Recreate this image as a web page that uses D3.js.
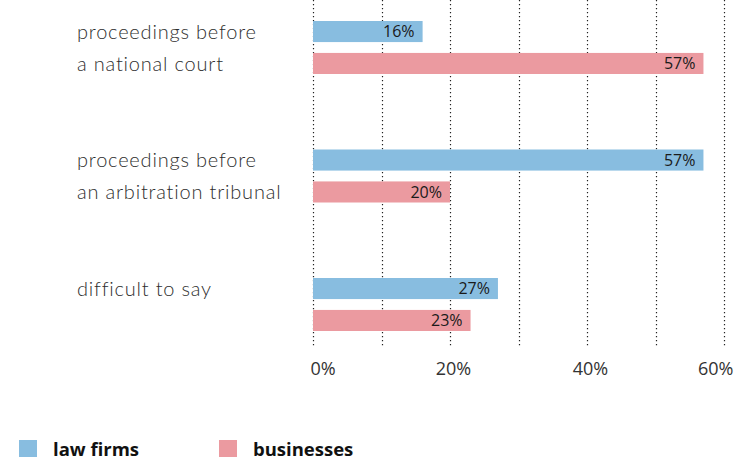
<!DOCTYPE html>
<html>
<head>
<meta charset="utf-8">
<script src="https://cdn.jsdelivr.net/npm/d3@7"></script>
<style>
  html, body { margin: 0; padding: 0; background: #fff; }
  svg { display: block; }
</style>
</head>
<body>
<svg id="chart" width="752" height="460"></svg>
<script>
// Chart data
const categories = [
  ["proceedings before", "a national court"],
  ["proceedings before", "an arbitration tribunal"],
  ["difficult to say"]
];
const seriesNames = ["law firms", "businesses"];
const lawFirms = [16, 57, 27];
const businesses = [57, 20, 23];
const tickValues = [0, 20, 40, 60];
const gridValues = [0, 10, 20, 30, 40, 50, 60];
const colors = ["#88bde0", "#eb9aa0"];

const svg = d3.select("#chart");
const series = [lawFirms, businesses];

const x = d3.scaleLinear().domain([0, 60]).range([313, 724]);
const groupStep = 128.5;
const groupTop = i => 21 + i * groupStep;
const ySeries = d3.scaleBand().domain(d3.range(seriesNames.length)).range([0, 53]).paddingInner(0.34);

// dotted vertical grid
svg.append("g").selectAll("line").data(gridValues).join("line")
  .attr("x1", d => Math.round(x(d)) + 0.5)
  .attr("x2", d => Math.round(x(d)) + 0.5)
  .attr("y1", 0).attr("y2", 346)
  .attr("stroke", "#222").attr("stroke-width", 1.2)
  .attr("stroke-dasharray", "1.2,2.8");

// bars
const groups = svg.append("g").selectAll("g").data(categories).join("g")
  .attr("transform", (d, i) => `translate(0,${groupTop(i)})`);

groups.each(function(cat, i) {
  const g = d3.select(this);
  series.forEach((vals, s) => {
    const v = vals[i];
    g.append("rect")
      .attr("x", x(0))
      .attr("y", ySeries(s))
      .attr("width", x(v) - x(0))
      .attr("height", ySeries.bandwidth())
      .attr("fill", colors[s]);
    g.append("text")
      .attr("x", x(v) - 8)
      .attr("y", ySeries(s) + ySeries.bandwidth() / 2)
      .attr("dy", "0.36em")
      .attr("text-anchor", "end")
      .attr("font-family", "'Open Sans', sans-serif")
      .attr("font-size", 16)
      .attr("fill", "#1a1a1a")
      .text(v + "%");
  });
  // category label, one line per row
  cat.forEach((line, k) => {
    g.append("text")
      .attr("x", 77)
      .attr("y", ySeries(k) + ySeries.bandwidth() / 2)
      .attr("dy", "0.36em")
      .attr("font-family", "Lato, sans-serif")
      .attr("font-weight", 300)
      .attr("font-size", 20)
      .attr("letter-spacing", 0.8)
      .attr("fill", "#2e2e2e")
      .text(line);
  });
});

// x axis tick labels
const axis = d3.axisBottom(x).tickValues(tickValues).tickFormat(d => d + "%").tickSize(0).tickPadding(0);
const ax = svg.append("g").attr("transform", "translate(0,362)").call(axis);
ax.select(".domain").remove();
ax.selectAll("text")
  .attr("font-family", "'Open Sans', sans-serif")
  .attr("font-size", 18)
  .attr("fill", "#333")
  .attr("dy", "0.71em")
  .attr("text-anchor", (d, i, n) => i === 0 ? "start" : (i === n.length - 1 ? "end" : "middle"))
  .attr("dx", (d, i, n) => i === 0 ? -3 : (i === n.length - 1 ? 9 : 3));

// legend
const legend = svg.append("g").attr("transform", "translate(19,440)");
const legendX = [0, 200];
seriesNames.forEach((name, i) => {
  legend.append("rect").attr("x", legendX[i]).attr("y", 0).attr("width", 18).attr("height", 17).attr("fill", colors[i]);
  legend.append("text")
    .attr("x", legendX[i] + 34).attr("y", 16)
    .attr("font-family", "'Open Sans', sans-serif")
    .attr("font-weight", 700)
    .attr("font-size", 18.5)
    .attr("fill", "#111")
    .text(name);
});
</script>
</body>
</html>
